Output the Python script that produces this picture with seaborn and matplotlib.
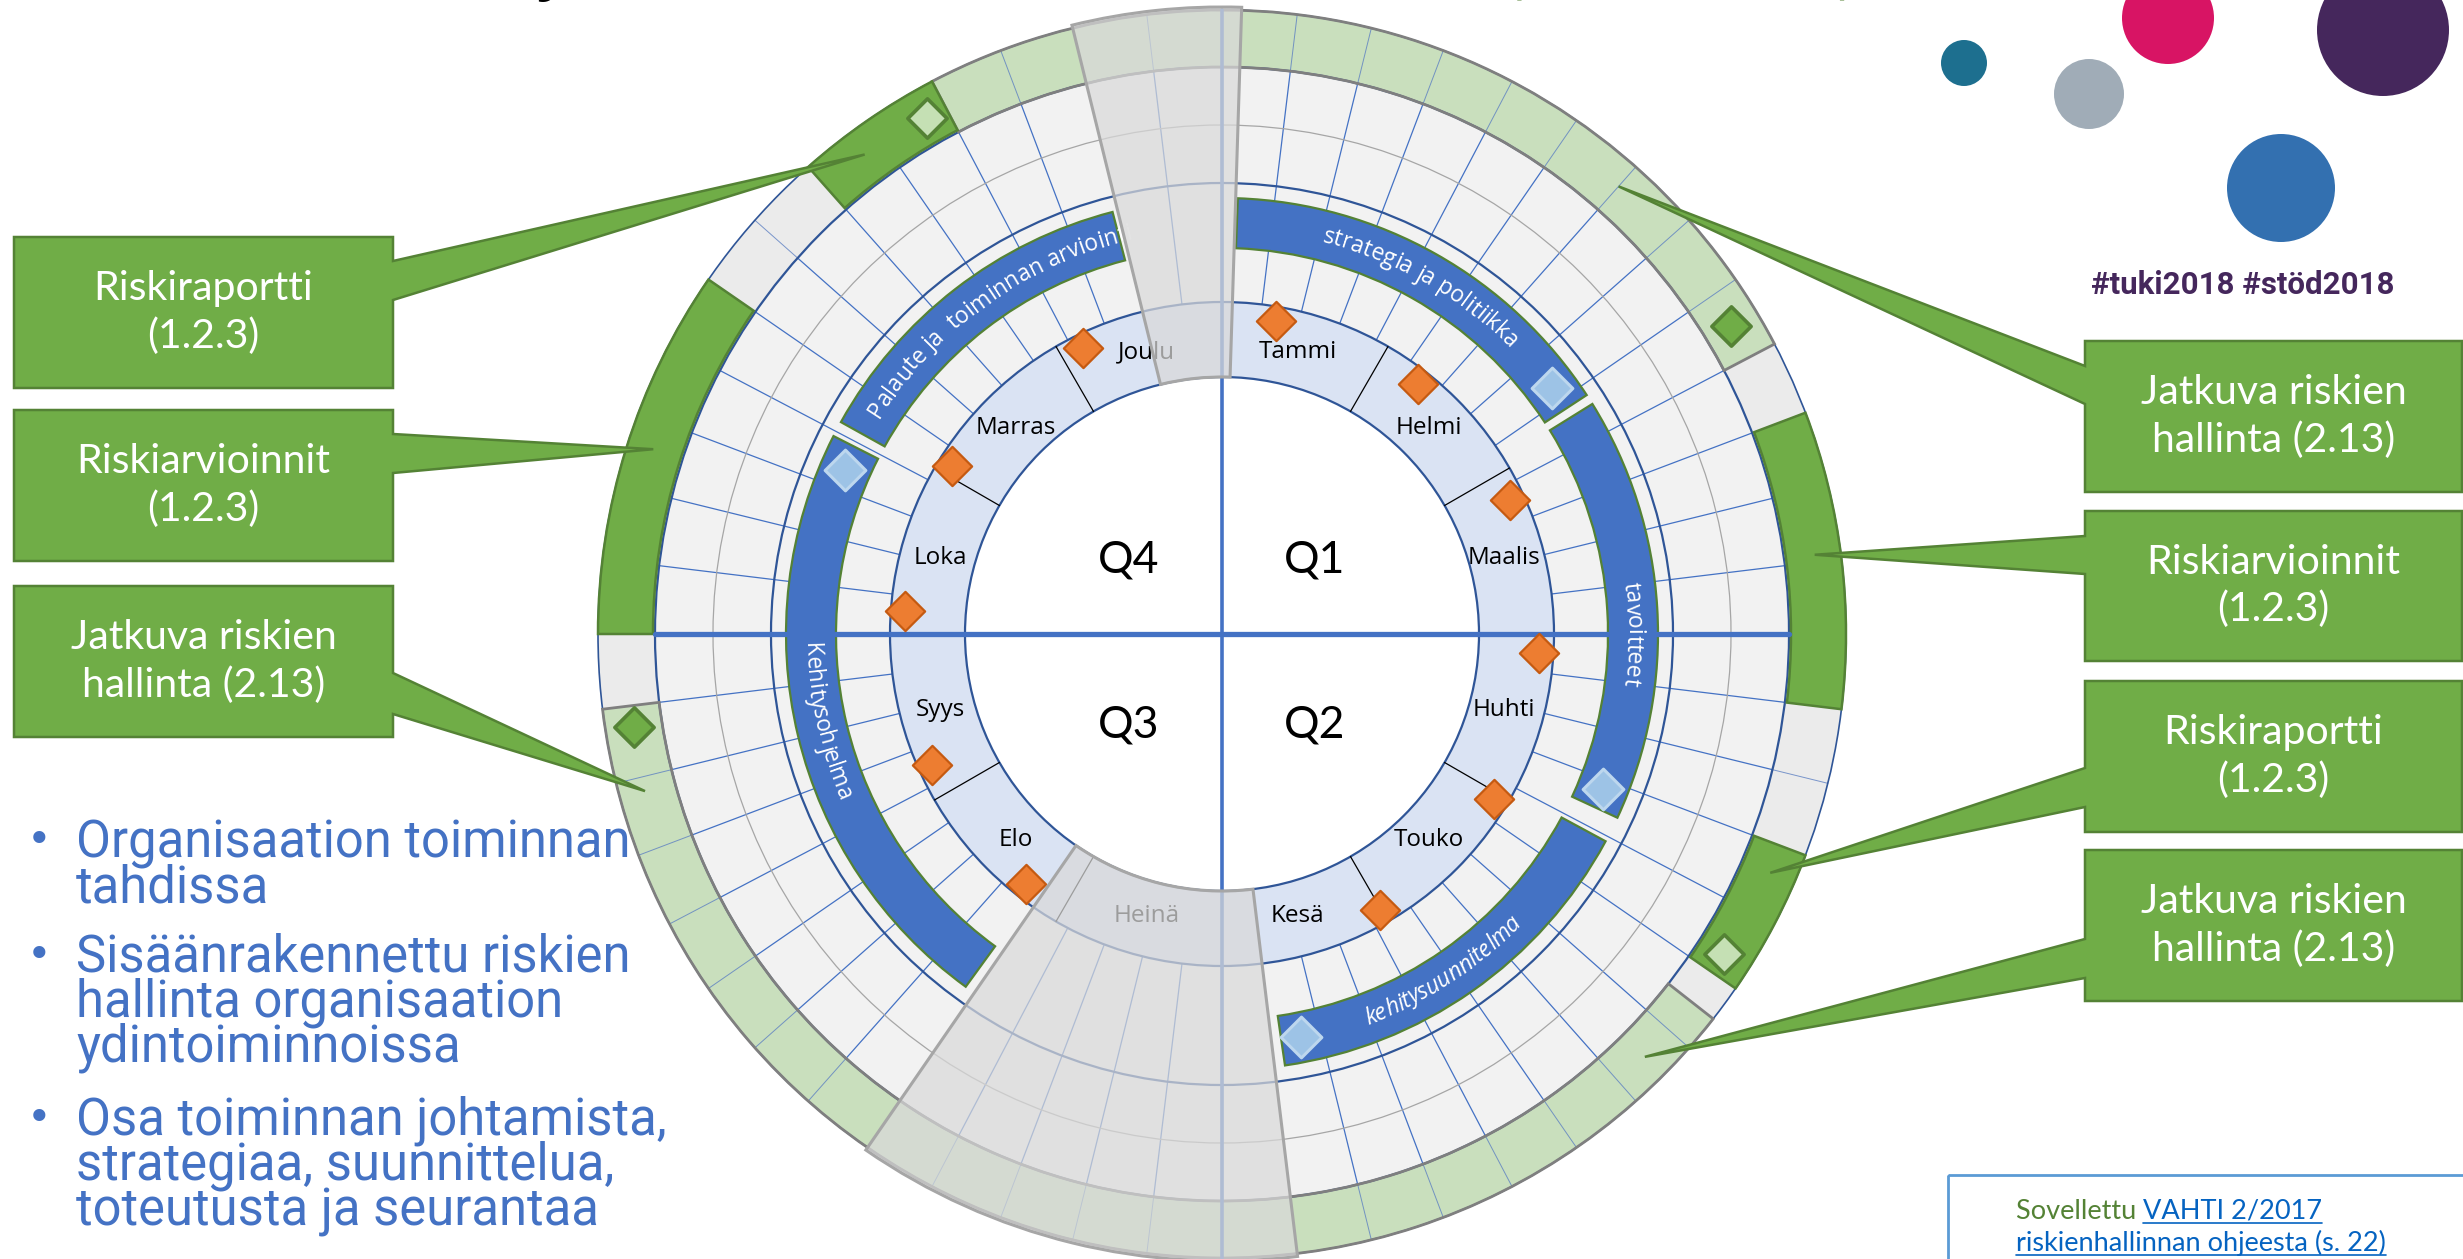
import numpy as np
import matplotlib
matplotlib.use("Agg")
import matplotlib.pyplot as plt
import seaborn as sns
import pandas as pd
from matplotlib.patches import Wedge, Polygon, Rectangle, Circle
from matplotlib.font_manager import FontProperties
from matplotlib.textpath import TextToPath

# ---------------- data ----------------
months = ["Tammi", "Helmi", "Maalis", "Huhti", "Touko", "Kesä",
          "Heinä", "Elo", "Syys", "Loka", "Marras", "Joulu"]
quarters = ["Q1", "Q2", "Q3", "Q4"]

# holiday overlays (weeks, clockwise from top)
holiday_months = ["Heinä", "Joulu"]
holiday_start_wk = [25.0, 50.0]
holiday_end_wk = [31.0, 52.26]

# process bands
band_labels = ["strategia ja politiikka", "tavoitteet", "kehitysuunnitelma",
               "Kehitysohjelma", "Palaute ja  toiminnan arviointi"]
band_start_wk = [0.3, 8.4, 17.1, 31.2, 43.2]
band_end_wk = [8.2, 16.6, 24.8, 42.9, 49.9]
band_label_wk = [4.3, 13.0, 21.2, 37.2, 46.9]
band_label_italic = [False, False, True, False, False]
band_marker_wk = [7.7, 16.2, 24.4, 42.4]

# monthly markers (orange diamonds)
month_marker_wk = [1.4, 5.5, 9.4, 13.5, 17.5, 21.7, 31.5, 35.5, 39.6, 43.6, 48.25]

# risk management ring segments
risk_kind = ["jatkuva", "arviointi", "raportti", "jatkuva", "arviointi", "raportti"]
risk_start_wk = [-4.0, 10.0, 16.0, 18.5, 39.0, 46.0]
risk_end_wk = [9.0, 14.0, 18.0, 38.0, 44.0, 48.0]
risk_marker_wk = [8.5, 17.7, 37.7, 47.7]
risk_marker_kind = ["jatkuva", "raportti", "jatkuva", "raportti"]

callout_text = ["Riskiraportti\n(1.2.3)", "Riskiarvioinnit\n(1.2.3)",
                "Jatkuva riskien\nhallinta (2.13)",
                "Jatkuva riskien\nhallinta (2.13)", "Riskiarvioinnit\n(1.2.3)",
                "Riskiraportti\n(1.2.3)", "Jatkuva riskien\nhallinta (2.13)"]
callout_side = ["L", "L", "L", "R", "R", "R", "R"]
callout_target_wk = [46.7, 41.6, 36.8, 6.0, 11.9, 16.4, 19.5]

bullet_lines = [["Organisaation toiminnan", "tahdissa"],
                ["Sisäänrakennettu riskien", "hallinta organisaation", "ydintoiminnoissa"],
                ["Osa toiminnan johtamista,", "strategiaa, suunnittelua,",
                 "toteutusta ja seurantaa"]]
hashtags = "#tuki2018 #stöd2018"
source_prefix = "Sovellettu "
source_link = ["VAHTI 2/2017", "riskienhallinnan ohjeesta (s. 22)"]

# ---------------- layout ----------------
W, H = 2463, 1259
CX, CY = 1222, 634
R_IN, R_MON, R_BI, R_BO, R_MID, R_THIN, R_GRID, R_OUT = 257, 332, 386, 436, 451, 509, 567, 624
NW = 52

C_BLUE = "#4472C4"
C_DBLUE = "#2F5597"
C_GREEN = "#70AD47"
C_DGREEN = "#548235"
C_LGREEN = "#C9DFBD"
C_GRID = "#F2F2F2"
C_MON = "#DAE3F3"
C_OBAND = "#EBEBEB"

sns.set_theme(style="white")
plt.rcParams["font.family"] = ["Open Sans", "DejaVu Sans"]

fig = plt.figure(figsize=(W / 100, H / 100), dpi=100)
ax = fig.add_axes([0, 0, 1, 1])


def phi(wk):
    return np.deg2rad(np.asarray(wk, dtype=float) * 360.0 / NW)


def xy(wk, r):
    p = phi(wk)
    return CX + r * np.sin(p), CY - r * np.cos(p)


def th(wk):
    return wk * 360.0 / NW - 90.0


def ring(w0, w1, r_in, r_out, **kw):
    ax.add_patch(Wedge((CX, CY), r_out, th(w0), th(w1), width=r_out - r_in, **kw))


# base rings
ring(0, NW, R_MON, R_GRID, fc=C_GRID, ec="none", zorder=1)
ring(0, NW, R_IN, R_MON, fc=C_MON, ec="none", zorder=1)
ring(0, NW, R_GRID, R_OUT, fc=C_OBAND, ec="none", zorder=1)

# light green risk segments
for k, a, b in zip(risk_kind, risk_start_wk, risk_end_wk):
    if k == "jatkuva":
        ring(a, b, R_GRID, R_OUT, fc=C_LGREEN, ec="none", zorder=2)

# week grid lines
for k in range(NW):
    x0, y0 = xy(k, R_MON)
    x1, y1 = xy(k, R_GRID)
    ax.plot([x0, x1], [y0, y1], color=C_BLUE, lw=0.9, zorder=3, solid_capstyle="butt")
    x2, y2 = xy(k, R_OUT)
    ax.plot([x1, x2], [y1, y2], color="#5C7FC2", lw=0.7, alpha=0.8, zorder=3)

# circles
for r, c, lw in [(R_IN, C_DBLUE, 1.6), (R_MON, C_DBLUE, 1.6), (R_MID, C_DBLUE, 1.6),
                 (R_GRID, C_DBLUE, 1.6), (R_OUT, C_DBLUE, 1.2), (R_THIN, "#A6A6A6", 0.9)]:
    ax.add_patch(Circle((CX, CY), r, fill=False, ec=c, lw=lw, zorder=3.5))

# risk segment outlines / dark segments
for k, a, b in zip(risk_kind, risk_start_wk, risk_end_wk):
    if k == "jatkuva":
        ring(a, b, R_GRID, R_OUT, fc="none", ec="#7F7F7F", lw=2.0, zorder=4)
    else:
        ring(a, b, R_GRID + 2, R_OUT, fc=C_GREEN, ec=C_DGREEN, lw=1.8, zorder=4)

# month dividers
for i in range(1, 12):
    if i % 3 == 0:
        continue
    wk = i * NW / 12.0
    x0, y0 = xy(wk, R_IN)
    x1, y1 = xy(wk, R_MON)
    ax.plot([x0, x1], [y0, y1], color="black", lw=0.9, zorder=3.6)

# process bands
for a, b in zip(band_start_wk, band_end_wk):
    ring(a, b, R_BI, R_BO, fc=C_BLUE, ec=C_DGREEN, lw=1.6, zorder=5)

# axis lines
ax.plot([CX, CX], [CY - R_OUT, CY + R_OUT], color=C_BLUE, lw=2.6, zorder=6)
ax.plot([CX - R_GRID, CX + R_GRID], [CY, CY], color=C_BLUE, lw=3.8, zorder=6)

# diamonds via seaborn
mx, my = xy(month_marker_wk, 318)
sns.scatterplot(x=mx, y=my, marker="D", s=400, color="#ED7D31", edgecolor="#C55A11",
                linewidth=1.6, ax=ax, zorder=7, legend=False)
bx, by = xy(band_marker_wk, 411)
sns.scatterplot(x=bx, y=by, marker="D", s=430, color="#9DC3E6", edgecolor="#BDD7EE",
                linewidth=2.2, ax=ax, zorder=7, legend=False)
rk = np.array(risk_marker_kind)
rw = np.array(risk_marker_wk)
gx, gy = xy(rw[rk == "jatkuva"], 595)
sns.scatterplot(x=gx, y=gy, marker="D", s=400, color=C_GREEN, edgecolor=C_DGREEN,
                linewidth=2.6, ax=ax, zorder=7, legend=False)
lx, ly = xy(rw[rk == "raportti"], 595)
sns.scatterplot(x=lx, y=ly, marker="D", s=400, color="#C5E0B4", edgecolor=C_DGREEN,
                linewidth=2.6, ax=ax, zorder=7, legend=False)

# month labels
for i, m in enumerate(months):
    x, y = xy((i + 0.5) * NW / 12.0, 292)
    ax.text(x, y, m, ha="center", va="center", fontsize=17.5, color="black",
            family=["Open Sans", "DejaVu Sans"], zorder=7)

# quarter labels
q_dx = [1, 1, -1, -1]
q_dy = [-1, 1, 1, -1]
for q, sx, sy in zip(quarters, q_dx, q_dy):
    ax.text(CX + sx * 93, CY + (74 if sy < 0 else 91) * sy, q, ha="center", va="center",
            fontsize=32, color="black", family=["Lato", "DejaVu Sans"], zorder=7)

# arc text
_t2p = TextToPath()


def text_w_px(s, fp):
    w1 = _t2p.get_text_width_height_descent("|" + s + "|", fp, ismath=False)[0]
    w0 = _t2p.get_text_width_height_descent("||", fp, ismath=False)[0]
    return (w1 - w0) / 0.72


def arc_text(s, wk_mid, r, fs, color, family, style="normal", cw=True, z=7):
    fp = FontProperties(family=family, size=fs, style=style)
    em = fs / 0.72
    xh = 0.54 * em
    rb = r - xh / 2 if cw else r + xh / 2
    total = text_w_px(s, fp)
    pm = float(phi(wk_mid))
    for i, ch in enumerate(s):
        if ch == " ":
            continue
        c = (text_w_px(s[:i], fp) + text_w_px(s[:i + 1], fp)) / 2 - total / 2
        d = c / rb
        p = pm + d if cw else pm - d
        x = CX + rb * np.sin(p)
        y = CY - rb * np.cos(p)
        rot = -np.degrees(p) if cw else 180 - np.degrees(p)
        ax.text(x, y, ch, rotation=rot, rotation_mode="anchor", ha="center",
                va="baseline", fontproperties=fp, color=color, zorder=z)


for lab, wk, it in zip(band_labels, band_label_wk, band_label_italic):
    cw = not (13.5 < wk < 39.0)
    arc_text(lab, wk, 411, 16.5, "white", ["Open Sans", "DejaVu Sans"],
             style="italic" if it else "normal", cw=cw)

# holiday overlays
for a, b in zip(holiday_start_wk, holiday_end_wk):
    ring(a, b, R_IN, R_OUT + 3, fc=(0.85, 0.85, 0.85, 0.72), ec="#A6A6A6", lw=2.2, zorder=8)

# callouts
left_boxes = [(237, 388, 261, 300), (410, 561, 434, 473), (586, 737, 673, 714)]
right_boxes = [(341, 492, 366, 404), (511, 661, 536, 574), (681, 832, 768, 807), (850, 1001, 939, 978)]
li = ri = 0
for txt, side, wk in zip(callout_text, callout_side, callout_target_wk):
    tx, ty = xy(wk, 598)
    if side == "L":
        y0, y1, b0, b1 = left_boxes[li]
        li += 1
        x0, x1 = 14, 393
        pts = [(x0, y0), (x1, y0), (x1, b0), (tx, ty), (x1, b1), (x1, y1), (x0, y1)]
    else:
        y0, y1, b0, b1 = right_boxes[ri]
        ri += 1
        x0, x1 = 2085, 2462
        pts = [(x0, y0), (x1, y0), (x1, y1), (x0, y1), (x0, b1), (tx, ty), (x0, b0)]
    ax.add_patch(Polygon(pts, closed=True, fc=C_GREEN, ec=C_DGREEN, lw=1.8, zorder=9))
    ax.text((x0 + x1) / 2, (y0 + y1) / 2, txt, ha="center", va="center", color="white",
            fontsize=29.5, family=["Lato", "DejaVu Sans"], linespacing=1.32, zorder=10)

# bullets (each bullet one multi-line text block)
y_first = [841, 956, 1119]
for lines, yf in zip(bullet_lines, y_first):
    ax.text(39, yf, "•", ha="center", va="center", fontsize=30, color=C_BLUE,
            family=["DejaVu Sans"], zorder=10)
    n = len(lines)
    ax.text(76, yf + (n - 1) * 22 + 3, "\n".join(lines), ha="left", va="center",
            fontsize=36.5, color=C_BLUE, family=["Roboto", "DejaVu Sans"],
            linespacing=0.87, zorder=10)

# decorative dots
for (x, y, r, c) in [(1964, 63, 23, "#1D6F8F"), (2089, 94, 35, "#A0ACB7"),
                     (2168, 18, 46, "#D81464"), (2383, 30, 66, "#45275C"),
                     (2281, 188, 54, "#3370B0")]:
    ax.add_patch(Circle((x, y), r, fc=c, ec="none", zorder=10))

ax.text(2243, 285, hashtags, ha="center", va="center", fontsize=22.5, fontweight="bold",
        color="#45275C", family=["Roboto", "DejaVu Sans"], zorder=10)

# title fragments (mostly cut off at the top edge, as in the original slide)
ax.text(552, -11, "y", ha="center", va="baseline", fontsize=40, fontweight="bold",
        color="black", zorder=10)
ax.text(1515, -9, "(", ha="center", va="baseline", fontsize=40, color=C_DGREEN, zorder=10)
ax.text(1845, -9, ")", ha="center", va="baseline", fontsize=40, color=C_DGREEN, zorder=10)

# source box
ax.add_patch(Rectangle((1948, 1175), 600, 200, fill=False, ec="#5B9BD5", lw=2, zorder=10))
t1 = ax.text(2016, 1219, source_prefix, ha="left", va="baseline", fontsize=19.5,
             color=C_DGREEN, family=["Lato", "DejaVu Sans"], zorder=10)

ax.set_xlim(0, W)
ax.set_ylim(H, 0)
ax.set_axis_off()

fig.canvas.draw()
inv = ax.transData.inverted()
bb = t1.get_window_extent()
xe = inv.transform((bb.x1, bb.y0))[0]
t2 = ax.text(xe, 1219, source_link[0], ha="left", va="baseline", fontsize=19.5,
             color="#0563C1", family=["Lato", "DejaVu Sans"], zorder=10)
t3 = ax.text(2016, 1251, source_link[1], ha="left", va="baseline", fontsize=19.5,
             color="#0563C1", family=["Lato", "DejaVu Sans"], zorder=10)
fig.canvas.draw()
for t, yb in [(t2, 1219), (t3, 1251)]:
    b = t.get_window_extent()
    xa = inv.transform((b.x0, b.y0))[0]
    xb = inv.transform((b.x1, b.y0))[0]
    ax.plot([xa, xb], [yb + 4, yb + 4], color="#0563C1", lw=1.2, zorder=10)

ax.set_xlim(0, W)
ax.set_ylim(H, 0)
fig.savefig("out.png", dpi=100)
